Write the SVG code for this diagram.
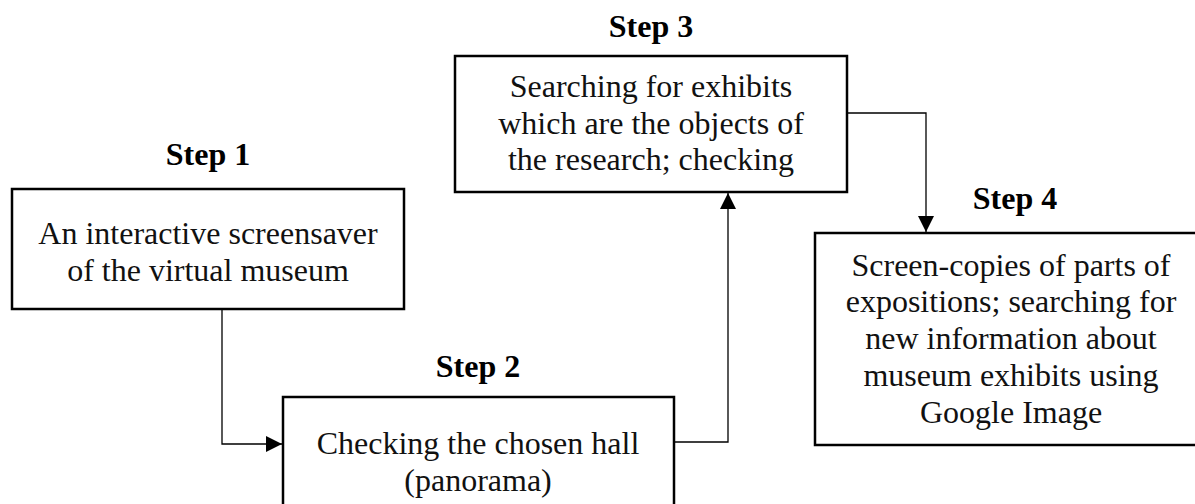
<svg xmlns="http://www.w3.org/2000/svg" width="1195" height="504" viewBox="0 0 1195 504">
<style>
.box{fill:#fff;stroke:#000;stroke-width:2.5}
.t{font-family:"Liberation Serif","Times New Roman",serif;font-size:32px;fill:#111;text-anchor:middle}
.s{font-family:"Liberation Serif","Times New Roman",serif;font-size:32px;font-weight:bold;fill:#000;text-anchor:middle}
.c{fill:none;stroke:#000;stroke-width:1.3}
</style>
<defs>
<marker id="ah" markerUnits="userSpaceOnUse" markerWidth="16" markerHeight="16" viewBox="0 0 15 15" refX="15" refY="7.5" orient="auto">
<path d="M0,0 L15,7.5 L0,15 Z" fill="#000"/>
</marker>
</defs>
<g id="connectors">
<path class="c" d="M222,309 V444 H282" marker-end="url(#ah)"/>
<path class="c" d="M674,442 H728 V193" marker-end="url(#ah)"/>
<path class="c" d="M847,113 H926 V232" marker-end="url(#ah)"/>
</g>
<g id="step1">
<text class="s" x="208" y="165">Step 1</text>
<rect class="box" x="12" y="189" width="392" height="120"/>
<text class="t" x="208" y="244">An interactive screensaver</text>
<text class="t" x="208" y="281">of the virtual museum</text>
</g>
<g id="step2">
<text class="s" x="478" y="377">Step 2</text>
<rect class="box" x="283" y="397" width="391" height="130"/>
<text class="t" x="478" y="454">Checking the chosen hall</text>
<text class="t" x="478" y="491">(panorama)</text>
</g>
<g id="step3">
<text class="s" x="651" y="37">Step 3</text>
<rect class="box" x="455" y="56" width="392" height="136"/>
<text class="t" x="651" y="97">Searching for exhibits</text>
<text class="t" x="651" y="134">which are the objects of</text>
<text class="t" x="651" y="170">the research; checking</text>
</g>
<g id="step4">
<text class="s" x="1015" y="209">Step 4</text>
<rect class="box" x="815" y="233" width="392" height="212"/>
<text class="t" x="1011" y="276">Screen-copies of parts of</text>
<text class="t" x="1011" y="312">expositions; searching for</text>
<text class="t" x="1011" y="349">new information about</text>
<text class="t" x="1011" y="386">museum exhibits using</text>
<text class="t" x="1011" y="423">Google Image</text>
</g>
</svg>
